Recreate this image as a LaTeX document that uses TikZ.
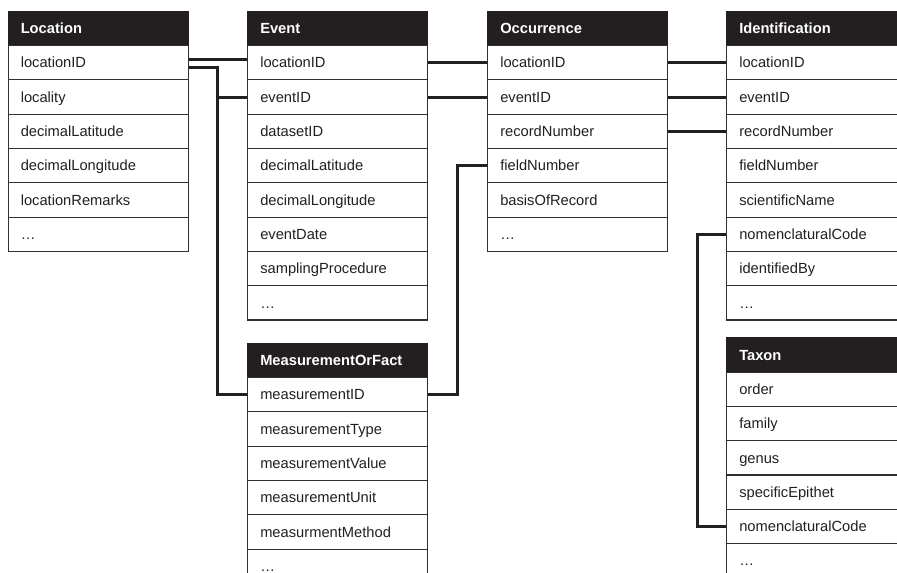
\documentclass[tikz,border=0pt]{standalone}
\usepackage{fontspec}
\setmainfont{Liberation Sans}
\usepackage{tikz}
\usetikzlibrary{positioning, calc}
\definecolor{inkdark}{HTML}{231F20}
\definecolor{rowline}{HTML}{303030}

% one table: id, x, y, title, fields
\newcommand{\dbtable}[5]{%
    \node[tblhead] (#1) at (#2,#3) {#4};
    \foreach \fld [count=\i] in {#5}
        \node[tblrow] (#1-\i) at (#2,{#3+34.5+(\i-1)*34.3}) {\fld};
}

\begin{document}
\begin{tikzpicture}[x=1pt, y=-1pt,
    tblrow/.style={rectangle, anchor=north west, draw=rowline, fill=white, line width=1.1pt,
        text=inkdark, font=\fontsize{14.7}{17}\selectfont, text width=154.6pt, inner xsep=12.7pt,
        align=left, minimum height=34.3pt, text height=10.5pt, text depth=0pt},
    tblhead/.style={tblrow, fill=inkdark, draw=inkdark, text=white,
        font=\fontsize{14.7}{17}\selectfont\bfseries, minimum height=34.5pt},
    link/.style={draw=inkdark, line width=3pt}]
    \useasboundingbox (0,0) rectangle (897,573);
    \clip (0,0) rectangle (897,573);

    % tables
    \dbtable{loc}{7.5}{10.5}{Location}{locationID, locality, decimalLatitude, decimalLongitude, locationRemarks, …}
    \dbtable{ev}{247}{10.5}{Event}{locationID, eventID, datasetID, decimalLatitude, decimalLongitude, eventDate, samplingProcedure, …}
    \dbtable{occ}{487}{10.5}{Occurrence}{locationID, eventID, recordNumber, fieldNumber, basisOfRecord, …}
    \dbtable{idn}{726}{10.5}{Identification}{locationID, eventID, recordNumber, fieldNumber, scientificName, nomenclaturalCode, identifiedBy, …}
    \dbtable{mof}{247}{342.5}{MeasurementOrFact}{measurementID, measurementType, measurementValue, measurementUnit, measurmentMethod, …}
    \dbtable{tax}{726}{337}{Taxon}{order, family, genus, specificEpithet, nomenclaturalCode, …}

    % bend points between the columns
    \coordinate (bendA) at ($(loc-1.east)!0.5!(ev-1.west)$);
    \coordinate (bendB) at ($(ev-1.east)!0.5!(occ-1.west)$);
    \coordinate (bendC) at ($(occ-1.east)!0.5!(idn-1.west)$);

    % links
    \draw[link] ([yshift=3.5pt]loc-1.east) -- ([yshift=3.5pt]ev-1.west);
    \draw[link] ([yshift=-4.5pt]loc-1.east) -| (bendA |- mof-1.west) -- (mof-1.west);
    \draw[link] (bendA |- ev-2.west) -- (ev-2.west);
    \draw[link] (ev-1.east) -- (occ-1.west);
    \draw[link] (ev-2.east) -- (occ-2.west);
    \draw[link] (occ-1.east) -- (idn-1.west);
    \draw[link] (occ-2.east) -- (idn-2.west);
    \draw[link] (occ-3.east) -- (idn-3.west);
    \draw[link] (occ-4.west) -| (bendB |- mof-1.east) -- (mof-1.east);
    \draw[link] (idn-6.west) -| (bendC |- tax-5.west) -- (tax-5.west);
\end{tikzpicture}
\end{document}
